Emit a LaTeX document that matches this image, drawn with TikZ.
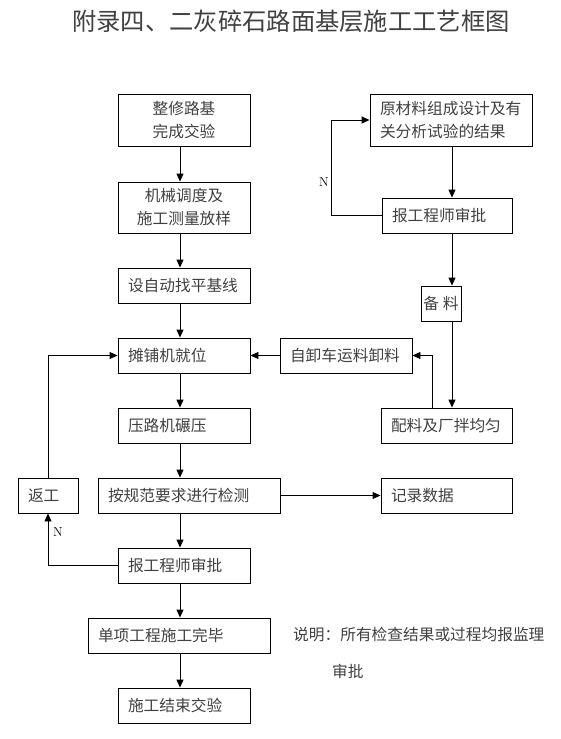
\documentclass[tikz,border=0pt]{standalone}
\usepackage{fontspec}
\newfontfamily\cjk{Noto Sans CJK SC}
\usetikzlibrary{arrows.meta}
\tikzset{
  box/.style={draw, line width=0.9pt, inner xsep=10pt, inner ysep=0pt, minimum height=35pt,
    font=\cjk\fontsize{15.7}{23}\selectfont, text=black!75},
  lbox/.style={box, align=left, text width=#1},
  cbox/.style={box, align=center, text width=#1},
  sbox/.style={box, inner xsep=0pt, minimum width=#1},
  arr/.style={line width=0.9pt, -{Triangle[length=8pt,width=7pt]}},
  lab/.style={inner sep=0pt, font=\fontsize{13}{13}\selectfont},
  note/.style={anchor=west, inner sep=0pt, font=\cjk\fontsize{15.7}{20}\selectfont, text=black!75},
}
\begin{document}
\begin{tikzpicture}[x=1pt,y=-1pt]
\useasboundingbox (0,0) rectangle (561,739);
\node[font=\cjk\fontsize{24.3}{24.3}\selectfont, text=black!75] (title) at (291,21) {附录四、二灰碎石路面基层施工工艺框图};
% main column
\node[cbox=112, minimum height=52pt] (b1) at (184,120) {整修路基\\完成交验};
\node[cbox=112, minimum height=51pt] (b2) at (184,207.5) {机械调度及\\施工测量放样};
\node[lbox=112] (b3) at (184,285.5) {设自动找平基线};
\node[lbox=112] (b4) at (184,355.5) {摊铺机就位};
\node[lbox=112] (b5) at (184,425.5) {压路机碾压};
\node[lbox=162] (b6) at (189,495.5) {按规范要求进行检测};
\node[lbox=112] (b7) at (184,565.5) {报工程师审批};
\node[lbox=162] (b8) at (179,635.5) {单项工程施工完毕};
\node[lbox=112] (b9) at (184,705.5) {施工结束交验};
\node[lbox=40] (r0) at (48,495.5) {返工};
% right column
\node[lbox=142, minimum height=52pt] (a1) at (451,120) {原材料组成设计及有\\关分析试验的结果};
\node[lbox=110] (a2) at (447,215.5) {报工程师审批};
\node[sbox=40pt] (a3) at (441,303.5) {备\hspace{4pt}料};
\node[lbox=111] (a4) at (446.5,425.5) {配料及厂拌均匀};
\node[lbox=112] (a5) at (346,355.5) {自卸车运料卸料};
\node[lbox=111] (a6) at (446.5,495.5) {记录数据};
% guide coordinates
\coordinate (mx) at (180,0);
\coordinate (rx) at (452,0);
\coordinate (lx) at (432,0);
\coordinate (nx) at (331,0);
% connectors
\foreach \p/\q in {b1/b2,b2/b3,b3/b4,b4/b5,b5/b6,b6/b7,b7/b8,b8/b9}
  \draw[arr] (\p.south -| mx) -- (\q.north -| mx);
\foreach \p/\q in {a1/a2,a2/a3,a3/a4}
  \draw[arr] (\p.south -| rx) -- (\q.north -| rx);
\draw[arr] (a4.north -| lx) |- (a5.east);
\draw[arr] (a5.west) -- (b4.east);
\draw[arr] (b6.east) -- (a6.west);
\draw[arr] (r0.north) |- (b4.west);
\draw[arr] (b7.west) -| (r0.south);
\draw[arr] (a2.west) -- (a2.west -| nx) -- (a1.west -| nx) -- (a1.west);
% labels
\node[lab] (n1) at (58,532) {N};
\node[lab] (n2) at (324,182) {N};
\node[note] (note1) at (293,635) {说明：所有检查结果或过程均报监理};
\node[note] (note2) at (332,671) {审批};
\end{tikzpicture}
\end{document}
